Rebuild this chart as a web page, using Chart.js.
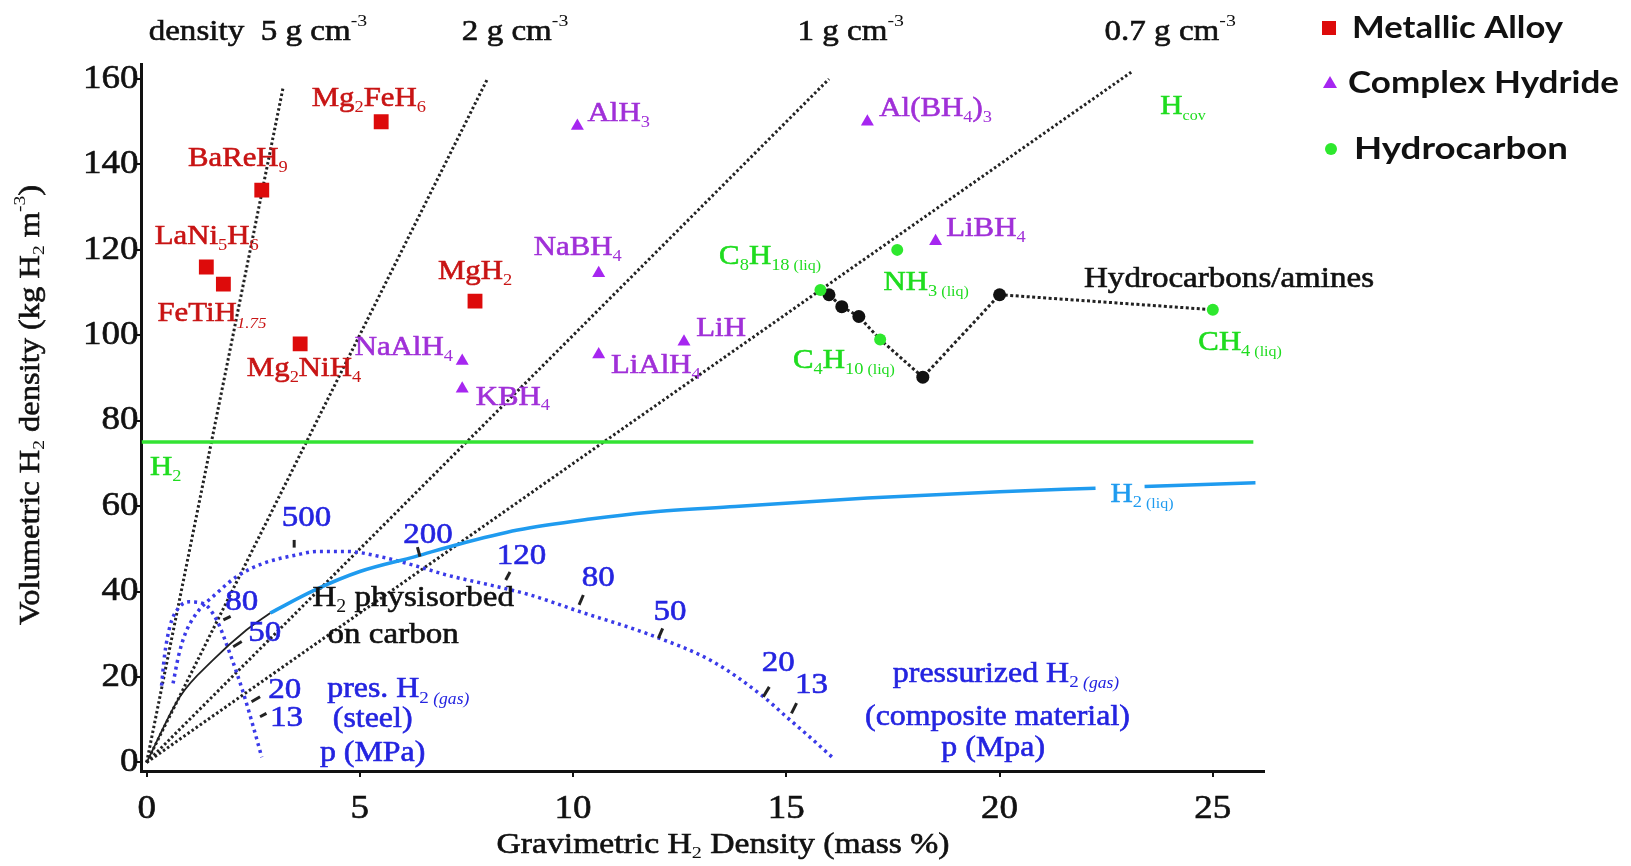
<!DOCTYPE html>
<html>
<head>
<meta charset="utf-8">
<script src="https://cdn.jsdelivr.net/npm/chart.js@4.4.1/dist/chart.umd.min.js"></script>
<style>
  html, body { margin: 0; padding: 0; background: #fff; }
  #wrap { width: 1631px; height: 866px; }
</style>
</head>
<body>
<div id="wrap"><canvas id="myChart"></canvas></div>
<script>
// ---- data (gravimetric mass %, volumetric kg H2 m-3) ----
const alloyNames = ['Mg_2FeH_6', 'BaReH_9', 'LaNi_5H_6', 'FeTiH~[1.75]', 'MgH_2', 'Mg_2NiH_4'];
const alloyGrav  = [5.5, 2.7, 1.4, 1.8, 7.7, 3.6];
const alloyVol   = [150, 134, 116, 112, 108, 98];

const hydrideNames = ['AlH_3', 'Al(BH_4)_3', 'NaBH_4', 'LiBH_4', 'NaAlH_4', 'KBH_4', 'LiAlH_4', 'LiH'];
const hydrideGrav  = [10.1, 16.9, 10.6, 18.5, 7.4, 7.4, 10.6, 12.6];
const hydrideVol   = [149, 150, 114.5, 122, 94, 87.5, 95.5, 98.5];

const hcNames = ['C_8H_{18}~{ (liq)}', 'NH_3~{ (liq)}', 'C_4H_{10}~{ (liq)}', 'CH_4~{ (liq)}'];
const hcGrav  = [15.8, 17.6, 17.2, 25.0];
const hcVol   = [110.6, 120, 99, 106];

// hydrocarbons / amines path (black dots)
const pathGrav = [15.8, 16.0, 16.3, 16.7, 17.2, 18.2, 20.0, 25.0];
const pathVol  = [110.6, 109.5, 106.7, 104.4, 99, 90.2, 109.5, 106];
const pathDot  = [false, true, true, true, false, true, true, false];

// density lines through the origin: end points
const densityLabels = ['density  5 g cm^{-3}', '2 g cm^{-3}', '1 g cm^{-3}', '0.7 g cm^{-3}'];
const densityEndGrav = [3.2, 8.0, 16.0, 23.1];
const densityEndVol  = [158, 160.2, 160, 161.7];

// liquid H2 (solid H2 line)
const h2Vol = 75;
const h2Grav = [-0.12, 25.95];

// H2 physisorbed on carbon
const physGrav = [0, 0.78, 1.56, 2.34, 2.9];
const physVol  = [0, 15.4, 24, 31, 35];

// H2 (liq) tank curve
const liqGrav = [2.9, 3.95, 5.0, 6.3, 7.25, 8.7, 10.4, 11.8, 13.8, 16.9, 20.0, 22.25, 22.8, 23.4, 26.0];
const liqVol  = [35, 40.4, 44.7, 48.2, 50.9, 54.4, 57, 58.6, 59.9, 61.9, 63.4, 64.2, null, 64.6, 65.5];

// pressurized H2 curves
const steelGrav = [0.35, 0.42, 0.55, 0.75, 1.0, 1.33, 1.64, 1.95, 2.27, 2.5, 2.7];
const steelVol  = [18, 25, 32, 36.2, 37.6, 37.2, 33.4, 25.6, 16.2, 8.4, 1.2];
const compGrav = [0.62, 0.75, 0.9, 1.17, 1.64, 2.11, 2.73, 3.52, 4.0, 4.7, 5.47, 6.25, 7.03, 8.2, 9.0, 10.16, 11.72, 13.28, 14.46, 15.0, 15.6, 16.1];
const compVol  = [18.5, 25, 30, 34.9, 39.6, 43.5, 46.6, 48.6, 49.4, 49.4, 48.2, 46.2, 43.9, 41.2, 39.2, 35.3, 30.2, 23.6, 15.4, 10.7, 5.5, 1.0];

// pressure labels (MPa)
const steelPressures = ['80', '50', '20', '13'];
const compPressures  = ['500', '200', '120', '80', '50', '20', '13'];

const xTicks = [0, 5, 10, 15, 20, 25];
const yTicks = [0, 20, 40, 60, 80, 100, 120, 140, 160];

// ---- annotation placement (data units) ----
const alloyLabelPos   = [[5.21, 155.3], [2.14, 141.3], [1.41, 123.0], [1.53, 105.0], [7.70, 114.8], [3.69, 92.1]];
const hydrideLabelPos = [[11.07, 151.8], [18.5, 153.0], [10.11, 120.5], [19.68, 124.9], [6.03, 97.0], [8.59, 85.4], [11.94, 92.8], [13.47, 101.5]];
const hcLabelPos      = [[14.62, 118.4], [18.28, 112.3], [16.35, 94.0], [25.64, 98.2]];
const densityLabelPos = [[2.61, 171.0], [8.64, 171.0], [16.51, 171.0], [24.0, 171.0]];
const steelLabelPos = [[2.23, 37.6], [2.77, 30.2], [3.24, 17], [3.28, 10.3]];
const compLabelPos  = [[3.75, 57.2], [6.6, 53.3], [8.79, 48.2], [10.59, 43.1], [12.27, 35.3], [14.81, 23.2], [15.59, 18.1]];
const steelMarks = [[[1.8, 33.4], [1.97, 34.2]], [[2.03, 27.1], [2.23, 28.3]], [[2.46, 14.2], [2.66, 15.4]], [[2.66, 10.7], [2.81, 11.5]]];
const compMarks  = [[[3.46, 52.1], [3.46, 50.3]], [[6.35, 50.4], [6.41, 48.2]], [[8.42, 42.7], [8.52, 44.6]], [[10.14, 36.9], [10.24, 39.2]],
                    [[12.0, 29.1], [12.1, 31.4]], [[14.46, 15.4], [14.6, 17.7]], [[15.12, 11.5], [15.24, 13.9]]];

const RED = '#dd0b0b', RED_T = '#c81414';
const PURPLE = '#a626f0', PURPLE_T = '#a030d8';
const GREEN = '#2ee82e', GREEN_T = '#1fdc1f';
const BLUE_LIQ = '#1f9bef', BLUE_P = '#3a3ae8', BLUE_T = '#2424e0';
const SERIF = '"Liberation Serif", "Times New Roman", serif';

const pts = (xs, ys) => xs.map((v, i) => ({ x: v, y: ys[i] }));

// ---- rich text (sub / superscripts) ----
function richParts(str) {
  const parts = [];
  let buf = '', i = 0;
  const push = (t, kind) => { if (t) parts.push({ t, kind }); };
  while (i < str.length) {
    const c = str[i];
    if ((c === '_' || c === '^' || c === '~') && i + 1 < str.length) {
      push(buf, 'n'); buf = '';
      let kind = c === '_' ? 'sub' : c === '^' ? 'sup' : 'small';
      let t;
      const o = str[i + 1];
      if (o === '{' || o === '[') {
        const j = str.indexOf(o === '{' ? '}' : ']', i + 2);
        t = str.slice(i + 2, j);
        if (o === '[') kind += 'I';
        i = j + 1;
      } else { t = o; i += 2; }
      push(t, kind);
    } else { buf += c; i++; }
  }
  push(buf, 'n');
  return parts;
}
const partStyle = {
  n:      { s: 1,    dy: 0,     it: false },
  sub:    { s: 0.6,  dy: 0.3,   it: false },
  sup:    { s: 0.6,  dy: -0.38, it: false },
  small:  { s: 0.52, dy: 0.34,  it: false },
  smallI: { s: 0.55, dy: 0.34,  it: true }
};
function drawRich(ctx, str, x, y, size, color, align, stretch) {
  const parts = richParts(str);
  ctx.save();
  ctx.fillStyle = color;
  ctx.strokeStyle = color;
  ctx.lineWidth = 0.6;
  ctx.textBaseline = 'middle';
  ctx.textAlign = 'left';
  let w = 0;
  parts.forEach(p => {
    const st = partStyle[p.kind];
    p.font = (st.it ? 'italic ' : '') + (size * st.s) + 'px ' + SERIF;
    ctx.font = p.font;
    p.w = ctx.measureText(p.t).width;
    p.dy = st.dy * size;
    w += p.w;
  });
  const sx = stretch || 1.1;
  let start = align === 'left' ? x : align === 'right' ? x - w * sx : x - w * sx / 2;
  ctx.translate(start, y);
  ctx.scale(sx, 1);
  let cx = 0;
  parts.forEach(p => {
    ctx.font = p.font;
    ctx.fillText(p.t, cx, p.dy);
    if (p.kind === 'n') ctx.strokeText(p.t, cx, p.dy);
    cx += p.w;
  });
  ctx.restore();
}

const annotations = {
  id: 'annotations',
  afterDatasetsDraw(chart) {
    const { ctx, scales: { x, y } } = chart;
    const px = v => x.getPixelForValue(v), py = v => y.getPixelForValue(v);
    const lab = (t, p, size, color, sx) => drawRich(ctx, t, px(p[0]), py(p[1]), size, color, 'center', sx);

    // tick labels from the library's scales
    y.ticks.forEach(t => drawRich(ctx, String(t.value), x.left - 3, py(t.value), 33, '#111', 'right', 1.12));
    x.ticks.forEach(t => drawRich(ctx, String(t.value), px(t.value), y.bottom + 38, 33, '#111', 'center', 1.12));

    // pressure marks
    ctx.save();
    ctx.strokeStyle = '#222';
    ctx.lineWidth = 3;
    steelMarks.concat(compMarks).forEach(m => {
      ctx.beginPath();
      ctx.moveTo(px(m[0][0]), py(m[0][1]));
      ctx.lineTo(px(m[1][0]), py(m[1][1]));
      ctx.stroke();
    });
    ctx.restore();

    alloyNames.forEach((t, i) => lab(t, alloyLabelPos[i], 28, RED_T));
    hydrideNames.forEach((t, i) => lab(t, hydrideLabelPos[i], 28, PURPLE_T));
    hcNames.forEach((t, i) => lab(t, hcLabelPos[i], 28, GREEN_T));
    densityLabels.forEach((t, i) => lab(t, densityLabelPos[i], 29, '#111', 1.14));
    steelPressures.forEach((t, i) => lab(t, steelLabelPos[i], 30, BLUE_T));
    compPressures.forEach((t, i) => lab(t, compLabelPos[i], 30, BLUE_T));

    lab('H_2', [0.45, 69], 28, GREEN_T);
    lab('H~{cov}', [24.3, 153.5], 28, GREEN_T);
    lab('Hydrocarbons/amines', [25.38, 113.2], 29, '#111', 1.14);
    lab('H_2~{ (liq)}', [23.34, 62.7], 28, BLUE_LIQ);
    lab('H_2 physisorbed', [6.25, 38.4], 30, '#111');
    lab('on carbon', [5.78, 29.9], 30, '#111');
    lab('pres. H_2~[ (gas)]', [5.9, 17], 29, BLUE_T);
    lab('(steel)', [5.3, 10], 29, BLUE_T);
    lab('p (MPa)', [5.3, 2.2], 29, BLUE_T);
    lab('pressurized H_2~[ (gas)]', [20.15, 20.7], 29, BLUE_T);
    lab('(composite material)', [19.95, 10.5], 29, BLUE_T);
    lab('p (Mpa)', [19.85, 3.2], 29, BLUE_T);

    // axis titles
    drawRich(ctx, 'Gravimetric H_2 Density (mass %)', 723, 845, 29, '#111', 'center', 1.16);
    ctx.save();
    ctx.translate(31, 405);
    ctx.rotate(-Math.PI / 2);
    drawRich(ctx, 'Volumetric H_2 density (kg H_2 m^{-3})', 0, 0, 29, '#111', 'center', 1.12);
    ctx.restore();
  }
};

const customLegend = {
  id: 'customLegend',
  afterDraw(chart) {
    const { ctx } = chart;
    const items = [
      { text: 'Metallic Alloy', y: 28, tx: 1352, w: 211, mark: 'rect' },
      { text: 'Complex Hydride', y: 83, tx: 1348, w: 271, mark: 'tri' },
      { text: 'Hydrocarbon', y: 149, tx: 1354, w: 214, mark: 'circ' }
    ];
    ctx.save();
    ctx.font = 'bold 30px Lato, "Open Sans", sans-serif';
    ctx.textBaseline = 'middle';
    items.forEach(it => {
      if (it.mark === 'rect') { ctx.fillStyle = RED; ctx.fillRect(1322, it.y - 7, 14, 14); }
      if (it.mark === 'tri') {
        ctx.fillStyle = PURPLE; ctx.beginPath();
        ctx.moveTo(1330, it.y - 7); ctx.lineTo(1337, it.y + 5); ctx.lineTo(1323, it.y + 5); ctx.closePath(); ctx.fill();
      }
      if (it.mark === 'circ') { ctx.fillStyle = GREEN; ctx.beginPath(); ctx.arc(1331, it.y, 6, 0, Math.PI * 2); ctx.fill(); }
      ctx.fillStyle = '#111';
      const k = it.w / ctx.measureText(it.text).width;
      ctx.save();
      ctx.translate(it.tx, it.y);
      ctx.scale(k, 1);
      ctx.fillText(it.text, 0, 0);
      ctx.restore();
    });
    ctx.restore();
  }
};

const lineDs = (data, color, width, dash, extra) => Object.assign({
  data, showLine: true, borderColor: color, backgroundColor: color, borderWidth: width,
  borderDash: dash, pointRadius: 0, fill: false
}, extra || {});

const datasets = [
  { label: 'Metallic Alloy', data: pts(alloyGrav, alloyVol), pointStyle: 'rect', pointRadius: 10.5, backgroundColor: RED, borderWidth: 0 },
  { label: 'Complex Hydride', data: pts(hydrideGrav, hydrideVol), pointStyle: 'triangle', pointRadius: 7.5, backgroundColor: PURPLE, borderWidth: 0 },
  { label: 'Hydrocarbon', data: pts(hcGrav, hcVol), pointStyle: 'circle', pointRadius: 6, backgroundColor: GREEN, borderWidth: 0 },
  lineDs(pts(pathGrav, pathVol), '#222', 3, [3, 2.5], {
    pointRadius: pathDot.map(d => d ? 6.5 : 0), pointBackgroundColor: '#111', pointBorderWidth: 0
  }),
  lineDs([{ x: h2Grav[0], y: h2Vol }, { x: h2Grav[1], y: h2Vol }], '#33e333', 3.5, []),
  lineDs(pts(liqGrav, liqVol), BLUE_LIQ, 3.5, [], { cubicInterpolationMode: 'monotone', spanGaps: false }),
  lineDs(pts(physGrav, physVol), '#222', 1.8, [], { cubicInterpolationMode: 'monotone' }),
  lineDs(pts(steelGrav, steelVol), BLUE_P, 3.5, [3, 4], { cubicInterpolationMode: 'monotone' }),
  lineDs(pts(compGrav, compVol), BLUE_P, 3.5, [3, 4], { cubicInterpolationMode: 'monotone' })
];
densityEndGrav.forEach((g, i) => {
  datasets.push(lineDs([{ x: 0, y: 0 }, { x: g, y: densityEndVol[i] }], '#222', 3, [2.5, 2.5]));
});

new Chart(document.querySelector('#myChart'), {
  type: 'scatter',
  data: { datasets },
  options: {
    responsive: true,
    maintainAspectRatio: false,
    animation: false,
    events: [],
    layout: { padding: { top: 64.5, right: 367, left: 0, bottom: 0 } },
    plugins: { legend: { display: false }, tooltip: { enabled: false } },
    scales: {
      x: {
        type: 'linear', min: -0.12, max: 26.2,
        afterFit(scale) { scale.height = 95; },
        afterBuildTicks(scale) { scale.ticks = xTicks.map(v => ({ value: v })); },
        border: { display: true, color: '#111', width: 3 },
        grid: { drawOnChartArea: false, drawTicks: true, tickLength: 6, color: '#111', lineWidth: 2 },
        ticks: { display: false }
      },
      y: {
        type: 'linear', min: -2, max: 163.4,
        afterFit(scale) { scale.width = 141.5; },
        afterBuildTicks(scale) { scale.ticks = yTicks.map(v => ({ value: v })); },
        border: { display: true, color: '#111', width: 3 },
        grid: { drawOnChartArea: false, drawTicks: true, tickLength: 6, color: '#111', lineWidth: 2 },
        ticks: { display: false }
      }
    }
  },
  plugins: [annotations, customLegend]
});
</script>
</body>
</html>
